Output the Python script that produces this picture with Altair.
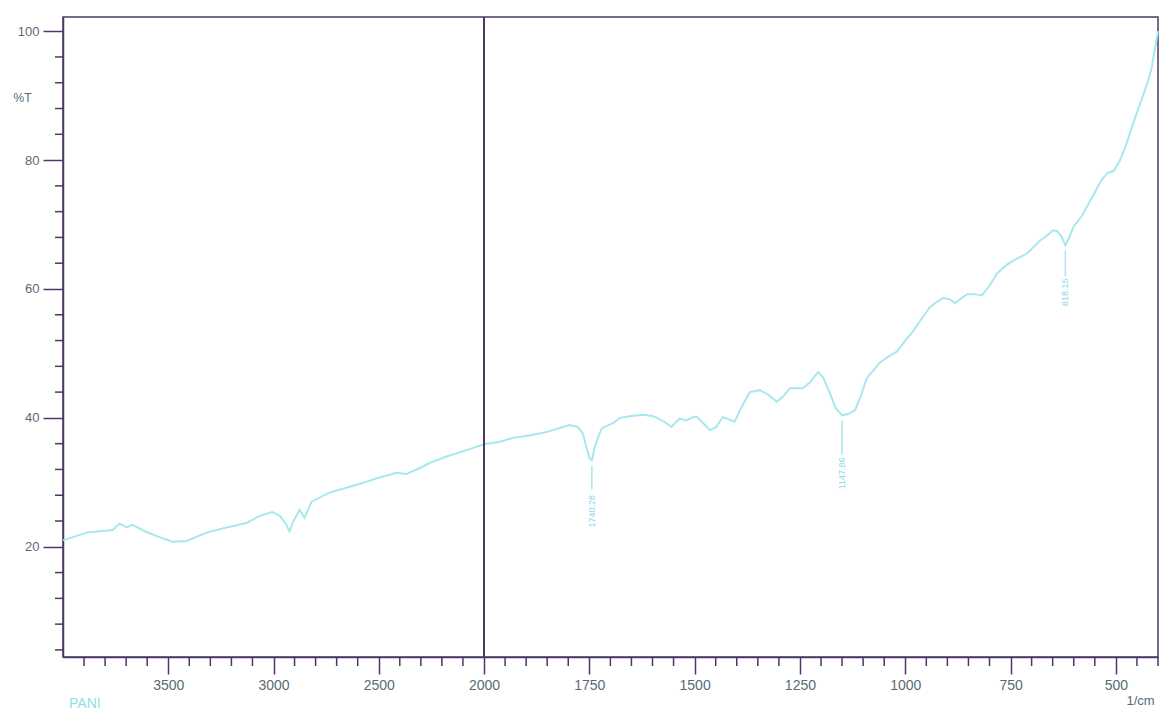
import altair as alt
import pandas as pd

# Spectrum (wavenumber 1/cm, %T)
wavenumber = [4000, 3888, 3800, 3764, 3731, 3698, 3670, 3603, 3542, 3480, 3413, 3318, 3223, 3128,
              3066, 3005, 2970, 2940, 2924, 2905, 2876, 2853, 2819, 2734, 2650, 2577, 2500, 2416,
              2368, 2300, 2259, 2178, 2083, 2000, 1962, 1931, 1890, 1851, 1797, 1777, 1765, 1757,
              1750, 1744, 1737, 1728, 1720, 1694, 1677, 1650, 1623, 1600, 1589, 1570, 1555, 1545,
              1535, 1520, 1504, 1495, 1480, 1464, 1450, 1433, 1420, 1405, 1390, 1369, 1345, 1325,
              1305, 1290, 1274, 1243, 1225, 1207, 1195, 1180, 1165, 1150, 1135, 1119, 1105, 1091,
              1075, 1060, 1040, 1020, 1000, 982, 960, 941, 925, 910, 895, 882, 870, 853, 835, 818,
              800, 782, 760, 744, 711, 680, 660, 649, 640, 630, 620, 612, 600, 580, 560, 535, 520,
              505, 490, 476, 460, 440, 425, 416, 408, 400]
transmittance = [21.0, 22.2, 22.5, 22.6, 23.6, 23.0, 23.4, 22.3, 21.5, 20.8, 20.9, 22.2, 23.0, 23.7,
                 24.8, 25.4, 24.8, 23.5, 22.4, 24.0, 25.7, 24.5, 27.0, 28.4, 29.2, 29.9, 30.7, 31.5,
                 31.3, 32.3, 33.0, 34.0, 35.0, 35.9, 36.3, 36.9, 37.3, 37.8, 38.9, 38.6, 37.5, 35.5,
                 33.8, 33.4, 35.5, 37.2, 38.4, 39.2, 40.0, 40.3, 40.5, 40.3, 40.0, 39.3, 38.6, 39.3,
                 39.9, 39.6, 40.1, 40.2, 39.2, 38.1, 38.5, 40.1, 39.8, 39.4, 41.5, 44.0, 44.3, 43.6,
                 42.5, 43.3, 44.6, 44.6, 45.6, 47.1, 46.3, 44.0, 41.5, 40.4, 40.6, 41.2, 43.5, 46.2,
                 47.4, 48.6, 49.5, 50.3, 52.0, 53.4, 55.5, 57.2, 58.0, 58.6, 58.4, 57.8, 58.4, 59.2, 59.2, 59.0,
                 60.5, 62.4, 63.7, 64.4, 65.5, 67.5, 68.5, 69.1, 69.0, 68.2, 66.8, 67.8, 69.7, 71.4, 73.8, 76.8, 78.0,
                 78.3, 80.0, 82.3, 85.5, 89.2, 92.0, 94.0, 97.0, 100.0]

# Peak annotations
peak_wn = [1744, 1150, 620]
peak_label = ["1740.28", "1147.86", "618.15"]
peak_line_top = [32.6, 39.6, 66.0]
peak_line_bottom = [28.9, 34.3, 62.0]
peak_text_pos = [25.5, 31.4, 59.5]

# Axis ticks
x_major = [3500, 3000, 2500, 2000, 1750, 1500, 1250, 1000, 750, 500]
x_minor = [v for v in list(range(3900, 2000, -100)) + list(range(1950, 399, -50)) if v not in x_major]
y_major = [20, 40, 60, 80, 100]
y_minor = [v for v in range(4, 101, 4) if v not in y_major]

spec = pd.DataFrame({"wn": wavenumber, "T": transmittance})
peaks = pd.DataFrame({"wn": peak_wn, "label": peak_label, "top": peak_line_top,
                      "bottom": peak_line_bottom, "tpos": peak_text_pos})
brk = pd.DataFrame({"wn": [2000]})
xmin_df = pd.DataFrame({"wn": x_minor})
ymin_df = pd.DataFrame({"T": y_minor})

LINE = "#a6e8ee"
FRAME = "#4b3866"
LABEL = "#566b76"

xscale = alt.Scale(domain=[4000, 2000, 400], range=[0, 421, 1095], nice=False, zero=False)
yscale = alt.Scale(domain=[2.9, 102.2], nice=False, zero=False)

xaxis = alt.Axis(values=x_major, tickCount=500, format="d", grid=False, labelOverlap=False,
                 tickSize=17, tickColor=FRAME, tickWidth=1.5, domainColor=FRAME, domainWidth=1.5,
                 labelColor=LABEL, labelFont="Liberation Sans", labelFontSize=14,
                 labelPadding=4, title="1/cm", titleFont="Liberation Sans", titleFontSize=13,
                 titleFontWeight="normal", titleColor=LABEL, titleX=1077, titleY=43,
                 titleAlign="center", titleBaseline="middle")
yaxis = alt.Axis(values=y_major, tickCount=500, format="d", grid=False, labelOverlap=False,
                 tickSize=20, tickColor=FRAME, tickWidth=1.5, domainColor=FRAME, domainWidth=1.5,
                 labelColor=LABEL, labelFont="Liberation Sans", labelFontSize=13,
                 labelPadding=4, title="%T", titleFont="Liberation Sans", titleFontSize=12,
                 titleFontWeight="normal", titleColor=LABEL, titleAngle=0, titleX=-41,
                 titleY=80, titleAlign="center", titleBaseline="middle")

X = alt.X("wn:Q", scale=xscale, axis=xaxis)
Y = alt.Y("T:Q", scale=yscale, axis=yaxis)

line = alt.Chart(spec).mark_line(color=LINE, strokeWidth=2).encode(
    x=X, y=Y, order=alt.Order("wn:Q", sort="descending"),
)

breakline = alt.Chart(brk).mark_rule(color=FRAME, strokeWidth=2).encode(x=X)

xminor_ticks = alt.Chart(xmin_df).mark_rule(color=FRAME, strokeWidth=1.5).encode(
    x=X, y=alt.value(640), y2=alt.value(649),
)

yminor_ticks = alt.Chart(ymin_df).mark_rule(color=FRAME, strokeWidth=1.5).encode(
    y=Y, x=alt.value(0), x2=alt.value(-8),
)

leaders = alt.Chart(peaks).mark_rule(color=LINE, strokeWidth=1.5).encode(
    x=X, y=alt.Y("top:Q", scale=yscale, axis=yaxis), y2="bottom:Q",
)

ptext = alt.Chart(peaks).mark_text(color="#86d9e6", fontSize=9, angle=270,
                                   font="Liberation Sans", baseline="middle",
                                   align="center").encode(
    x=X, y=alt.Y("tpos:Q", scale=yscale, axis=yaxis), text="label:N",
)

chart = alt.layer(line, breakline, xminor_ticks, yminor_ticks, leaders, ptext).properties(
    width=1095, height=640,
    autosize=alt.AutoSizeParams(type="none"),
    padding={"left": 63, "top": 17, "right": 7, "bottom": 57},
    title=alt.TitleParams("PANI", orient="bottom", anchor="start", color="#8fe0ec",
                          fontSize=14, fontWeight="normal", font="Liberation Sans",
                          dx=56, offset=-10),
).configure(background="white", view=alt.ViewConfig(stroke=FRAME, strokeWidth=1.5))

chart.save("out.html", embed_options={"renderer": "svg", "actions": False})
